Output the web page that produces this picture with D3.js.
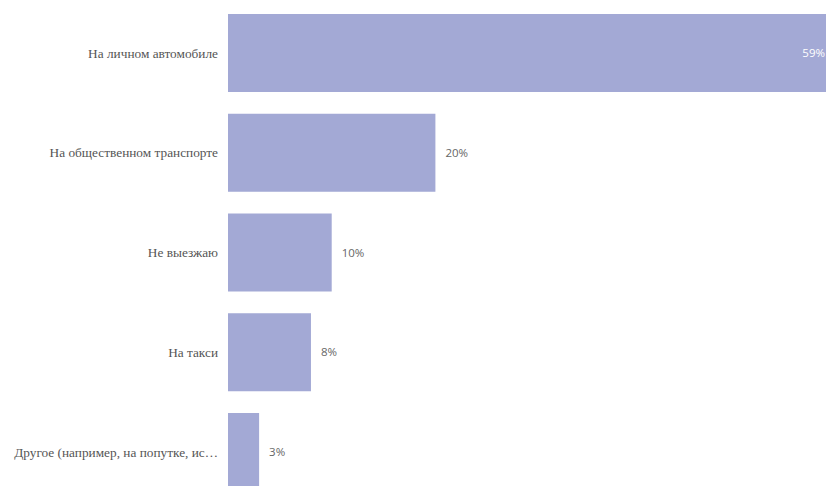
<!DOCTYPE html>
<html><head><meta charset="utf-8">
<script src="https://cdn.jsdelivr.net/npm/d3@7"></script>
<style>html,body{margin:0;padding:0;background:#fff;overflow:hidden}</style>
</head><body>
<svg id="c" width="826" height="486"></svg>
<script>
const categories = ["На личном автомобиле","На общественном транспорте","Не выезжаю","На такси","Другое (например, на попутке, ис…"];
const values = [59, 20, 10, 8, 3];
const valueLabels = ["59%","20%","10%","8%","3%"];

const W = 826, H = 486;
const svg = d3.select("#c");
const x0 = 228;
const x = d3.scaleLinear().domain([0, 1]).range([x0, x0 + 10.37]);
const y = d3.scaleBand().domain(categories).range([14, 491]).paddingInner(0.218).paddingOuter(0);

const rows = svg.selectAll("g.row").data(categories.map((c,i)=>({c, v:values[i], l:valueLabels[i]})))
  .enter().append("g").attr("class","row");

rows.append("rect")
  .attr("x", x(0))
  .attr("y", d => y(d.c))
  .attr("width", d => x(d.v) - x(0))
  .attr("height", y.bandwidth())
  .attr("fill", "#a3a9d5");

rows.append("text")
  .attr("x", x(0) - 10)
  .attr("y", d => y(d.c) + y.bandwidth()/2)
  .attr("dy", "0.35em")
  .attr("text-anchor", "end")
  .style("font-family", "'Liberation Serif','Times New Roman',serif")
  .style("font-size", "13.3px")
  .attr("fill", "#555")
  .text(d => d.c);

rows.append("text")
  .attr("x", d => x(d.v) > W - 40 ? W - 1 : x(d.v) + 10)
  .attr("y", d => y(d.c) + y.bandwidth()/2)
  .attr("dy", "0.35em")
  .attr("text-anchor", d => x(d.v) > W - 40 ? "end" : "start")
  .style("font-family", "'Open Sans','Noto Sans',sans-serif")
  .style("font-size", "11.5px")
  .attr("fill", d => x(d.v) > W - 40 ? "#fff" : "#666")
  .text(d => d.l);
</script>
</body></html>
